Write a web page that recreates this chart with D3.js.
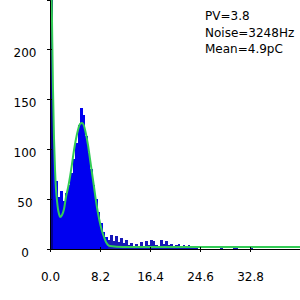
<!DOCTYPE html>
<meta charset="utf-8" />
<head>
  <script src="https://d3js.org/d3.v7.min.js"></script>
  <style>
    body { margin: 0; background: #fff; }
    text { font-family: "DejaVu Sans", sans-serif; font-size: 12px; }
  </style>
</head>
<body>
  <div id="my_data"></div>
</body>
<script>
  // histogram: counts per bin, bins of 0.41 pC starting at 0
  var binWidth = 0.41;
  var counts = [
    320, 110, 68, 52, 58, 48, 56, 64, 76, 90,
    106, 124, 141, 134, 113, 96, 80, 64, 50, 37,
    26, 17, 12, 9, 14, 8, 13, 7, 11, 6,
    9, 4, 6, 3, 5, 2, 7, 3, 8, 4,
    9, 8, 4, 3, 9, 5, 8, 4, 5, 3,
    4, 5, 3, 4, 2, 4, 3, 2, 1, 0,
    0, 0, 0, 0, 0, 0, 0, 0, 1, 0,
    0, 0, 0, 1, 1, 0, 0, 0, 0, 0,
    1, 0, 0, 0, 0, 0, 0, 0, 0, 0,
    0, 0, 0, 0, 0, 0, 0, 0, 0, 0
  ];

  // fitted curve (green)
  var fitX = [0.05, 0.16, 0.33, 0.49, 0.66, 0.82, 0.98, 1.15, 1.31, 1.48, 1.64,
    1.97, 2.30, 2.62, 2.95, 3.28, 3.61, 3.94, 4.26, 4.59, 4.92, 5.25, 5.58,
    5.90, 6.23, 6.56, 6.89, 7.22, 7.54, 7.87, 8.20, 8.53, 8.86, 9.18, 9.51,
    9.84, 12, 20, 30, 41];
  var fitY = [400, 300, 227, 160, 110, 80, 60, 48, 40, 35, 32,
    34, 40, 52, 61, 72, 85, 99, 110, 119, 125, 126, 123,
    115, 104, 90, 76, 62, 48, 36, 26, 18, 12, 7, 4,
    3, 2, 2, 2, 2];

  var xTicks = [0, 8.2, 16.4, 24.6, 32.8];
  var yTicks = [0, 50, 100, 150, 200];
  var infoLines = ["PV=3.8", "Noise=3248Hz", "Mean=4.9pC"];

  var margin = { top: 0, right: 0, bottom: 51, left: 50 },
    width = 300 - margin.left - margin.right,
    height = 300 - margin.top - margin.bottom;

  var svg = d3
    .select("#my_data")
    .append("svg")
    .attr("width", 300)
    .attr("height", 300)
    .append("g")
    .attr("transform", "translate(" + margin.left + "," + margin.top + ")");

  var x = d3.scaleLinear().domain([0, 41]).range([0, width]);
  var y = d3.scaleLinear().domain([0, 249]).range([height, 0]);

  // histogram bars (thin tail bars drawn darker, like the original)
  svg
    .append("g")
    .attr("shape-rendering", "crispEdges")
    .selectAll("rect")
    .data(counts)
    .enter()
    .append("rect")
    .attr("x", function (d, i) { return x(i * binWidth); })
    .attr("width", function (d, i) { return x((i + 1) * binWidth) - x(i * binWidth); })
    .attr("y", function (d) { return y(d); })
    .attr("height", function (d) { return height - y(d); })
    .attr("fill", function (d, i) {
      if (i == 0) return "#000090";
      return i > 22 ? "#1818b8" : "#0000f0";
    });

  // fit line
  var fit = fitX.map(function (v, i) { return [v, fitY[i]]; });
  svg
    .append("path")
    .datum(fit)
    .attr("fill", "none")
    .attr("stroke", "#33cc55")
    .attr("stroke-width", 2)
    .attr(
      "d",
      d3.line()
        .x(function (d) { return x(d[0]); })
        .y(function (d) { return y(d[1]); })
        .curve(d3.curveMonotoneX)
    );

  // X axis
  var xAxis = svg
    .append("g")
    .attr("transform", "translate(0," + height + ")")
    .call(d3.axisBottom(x).tickValues(xTicks).tickFormat(d3.format(".1f")).tickSize(3));
  xAxis.selectAll(".tick line").attr("y1", -2);
  xAxis.selectAll(".tick text").attr("y", 0).attr("dy", "32px");

  // Y axis
  var yAxis = svg
    .append("g")
    .call(d3.axisLeft(y).tickValues(yTicks).tickSize(3));
  yAxis.selectAll(".tick line").attr("x1", 2);
  yAxis
    .selectAll(".tick text")
    .attr("x", -25)
    .attr("dy", "7px")
    .style("text-anchor", "middle");

  svg.selectAll(".domain").attr("stroke", "#000");
  svg.selectAll(".tick text").attr("fill", "#000").style("font-size", "12px");

  // info text
  svg
    .selectAll(".info")
    .data(infoLines)
    .enter()
    .append("text")
    .attr("class", "info")
    .attr("x", 155)
    .attr("y", function (d, i) { return 20 + i * 16.5; })
    .text(function (d) { return d; });
</script>
